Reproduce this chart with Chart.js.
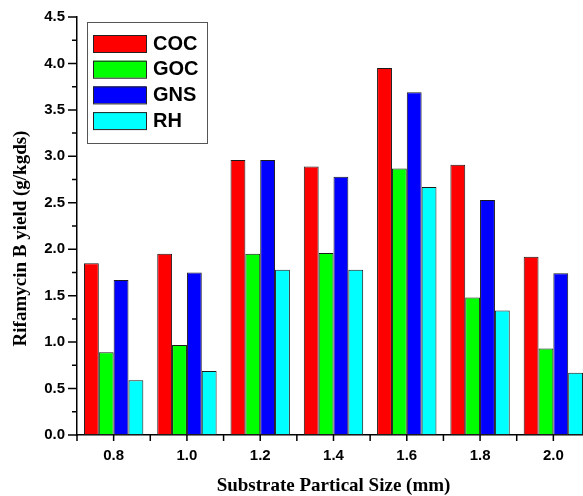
<!DOCTYPE html>
<html>
<head>
<meta charset="utf-8">
<script src="https://cdn.jsdelivr.net/npm/chart.js@4"></script>
<style>
  html, body { margin: 0; padding: 0; background: #fff; overflow: hidden; }
  #wrap { width: 595px; height: 496px; }
</style>
</head>
<body>
<div id="wrap"><canvas id="myChart" width="595" height="496"></canvas></div>
<script>
/* DATA */
const sizes = ['0.8', '1.0', '1.2', '1.4', '1.6', '1.8', '2.0'];
const coc = [1.85, 1.95, 2.96, 2.89, 3.95, 2.91, 1.92];
const goc = [0.89, 0.97, 1.95, 1.96, 2.87, 1.48, 0.93];
const gns = [1.67, 1.75, 2.96, 2.78, 3.69, 2.53, 1.74];
const rh  = [0.59, 0.69, 1.78, 1.78, 2.67, 1.34, 0.67];
const seriesNames = ['COC', 'GOC', 'GNS', 'RH'];
const seriesColors = ['#ff0000', '#00ff00', '#0000ff', '#00ffff'];

const sansBold = { family: 'Arial, "Liberation Sans", sans-serif', weight: 'bold' };
const serifBold = '"Times New Roman", "Liberation Serif", serif';

/* PLUGINS */
// tick marks, major + minor, drawn outside the axes
const axisTicks = {
  id: 'axisTicks',
  afterDraw(chart) {
    const ctx = chart.ctx;
    const x = chart.scales.x, y = chart.scales.y;
    ctx.save();
    ctx.strokeStyle = '#000';
    ctx.lineWidth = 1.5;
    ctx.beginPath();
    y.ticks.forEach((t, i) => {
      const py = y.getPixelForValue(t.value);
      ctx.moveTo(y.right - 9, py);
      ctx.lineTo(y.right, py);
      const next = y.ticks[i + 1];
      if (next) {
        const my = y.getPixelForValue((t.value + next.value) / 2);
        ctx.moveTo(y.right - 5, my);
        ctx.lineTo(y.right, my);
      }
    });
    const half = (x.getPixelForTick(1) - x.getPixelForTick(0)) / 2;
    x.ticks.forEach((t, i) => {
      const px = x.getPixelForTick(i);
      ctx.moveTo(px, x.top);
      ctx.lineTo(px, x.top + 6);
      ctx.moveTo(px - half, x.top);
      ctx.lineTo(px - half, x.top + 6);
      if (i === x.ticks.length - 1) {
        ctx.moveTo(px + half, x.top);
        ctx.lineTo(px + half, x.top + 6);
      }
    });
    ctx.stroke();

    // y axis title
    ctx.fillStyle = '#000';
    ctx.font = 'bold 19px ' + serifBold;
    ctx.textAlign = 'center';
    ctx.textBaseline = 'middle';
    ctx.translate(21, 238.5);
    ctx.rotate(-Math.PI / 2);
    ctx.fillText('Rifamycin B yield (g/kgds)', 0, 0);
    ctx.restore();
  }
};

// boxed legend inside the plot area
const boxLegend = {
  id: 'boxLegend',
  afterDraw(chart) {
    const ctx = chart.ctx;
    const a = chart.chartArea;
    const bx = a.left + 10, by = a.top + 5;
    ctx.save();
    ctx.fillStyle = '#fff';
    ctx.fillRect(bx, by, 120, 121);
    ctx.strokeStyle = '#555';
    ctx.lineWidth = 1;
    ctx.strokeRect(bx + 0.5, by + 0.5, 120, 121);
    ctx.font = 'bold 20px Arial, "Liberation Sans", sans-serif';
    ctx.textBaseline = 'middle';
    chart.data.datasets.forEach((ds, i) => {
      const ry = by + 13 + i * 25.7;
      ctx.fillStyle = ds.backgroundColor;
      ctx.fillRect(bx + 6, ry, 53, 17);
      ctx.strokeStyle = '#222';
      ctx.strokeRect(bx + 6.5, ry + 0.5, 53, 17);
      ctx.fillStyle = '#000';
      ctx.fillText(ds.label, bx + 66, ry + 9);
    });
    ctx.restore();
  }
};

/* CHART */
const seriesValues = [coc, goc, gns, rh];
const data = {
  labels: sizes,
  datasets: seriesNames.map((name, i) => ({
    label: name,
    data: seriesValues[i],
    backgroundColor: seriesColors[i],
    borderColor: '#1a1a1a',
    borderWidth: 1,
    borderSkipped: false,
    categoryPercentage: 0.81,
    barPercentage: 1.0
  }))
};

const config = {
  type: 'bar',
  data,
  options: {
    responsive: false,
    animation: false,
    layout: { padding: { top: 17, right: 5, left: 0, bottom: 0 } },
    plugins: {
      legend: { display: false },
      tooltip: { enabled: false }
    },
    scales: {
      x: {
        offset: true,
        grid: { display: false, drawTicks: false },
        border: { display: true, color: '#000', width: 1.5 },
        ticks: { color: '#000', font: { ...sansBold, size: 15 }, padding: 12, maxRotation: 0 },
        title: {
          display: true,
          text: 'Substrate Partical Size (mm)',
          color: '#000',
          font: { family: serifBold, weight: 'bold', size: 19, lineHeight: 1 },
          padding: { top: 5, bottom: 0 }
        },
        afterFit(scale) {
          scale.height = 61;
          scale.paddingLeft = 0;
          scale.paddingRight = 0;
        }
      },
      y: {
        min: 0,
        max: 4.5,
        grid: { display: false, drawTicks: false },
        border: { display: true, color: '#000', width: 1.5 },
        ticks: {
          stepSize: 0.5,
          color: '#000',
          font: { ...sansBold, size: 15 },
          padding: 12,
          callback: v => v.toFixed(1)
        },
        afterFit(scale) {
          scale.width = 77;
          scale.paddingTop = 0;
          scale.paddingBottom = 0;
        }
      }
    }
  },
  plugins: [axisTicks, boxLegend]
};

let myChart = new Chart(document.getElementById('myChart'), config);
</script>
</body>
</html>
